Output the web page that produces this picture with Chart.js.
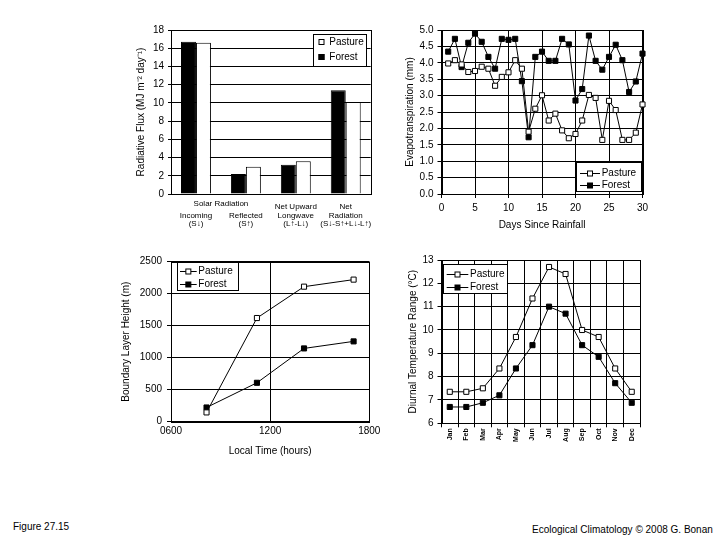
<!DOCTYPE html>
<html>
<head>
<meta charset="utf-8">
<script src="https://cdn.jsdelivr.net/npm/chart.js@4.4.1/dist/chart.umd.min.js"></script>
<style>
  body { margin: 0; background: #fff; width: 720px; height: 540px; position: relative; overflow: hidden; font-family: "Liberation Sans", Arial, sans-serif; }
  canvas { position: absolute; }
  .note { position: absolute; font-size: 10px; color: #000; white-space: nowrap; }
</style>
</head>
<body>
<canvas id="rad" width="270" height="220" style="left:130px;top:20px"></canvas>
<canvas id="et" width="260" height="220" style="left:400px;top:20px"></canvas>
<canvas id="bl" width="280" height="220" style="left:110px;top:250px"></canvas>
<canvas id="dtr" width="260" height="220" style="left:400px;top:250px"></canvas>
<div class="note" style="left:13px;top:521px">Figure 27.15</div>
<div class="note" style="left:532px;top:524px">Ecological Climatology © 2008 G. Bonan</div>
<script>
// radiation balance (top left)
const radLabels = [
  ["", "Incoming", "(S↓)"],
  ["", "Reflected", "(S↑)"],
  ["Net Upward", "Longwave", "(L↑-L↓)"],
  ["Net", "Radiation", "(S↓-S↑+L↓-L↑)"],
];
const radForest = [16.7, 2.2, 3.2, 11.4];
const radPasture = [16.6, 3.0, 3.6, 10.1];

// evapotranspiration (top right)
const etDays = [1, 2, 3, 4, 5, 6, 7, 8, 9, 10, 11, 12, 13, 14, 15, 16, 17, 18, 19, 20, 21, 22, 23, 24, 25, 26, 27, 28, 29, 30];
const etPasture = [3.98, 4.08, 3.95, 3.72, 3.75, 3.88, 3.82, 3.3, 3.57, 3.71, 4.08, 3.82, 1.9, 2.6, 3.01, 2.24, 2.45, 1.94, 1.7, 1.83, 2.24, 3.02, 2.93, 1.65, 2.84, 2.56, 1.65, 1.65, 1.87, 2.73];
const etForest = [4.34, 4.73, 3.87, 4.61, 4.89, 4.64, 4.18, 3.82, 4.73, 4.7, 4.73, 3.44, 1.73, 4.18, 4.34, 4.06, 4.06, 4.73, 4.56, 2.85, 3.2, 4.83, 4.06, 3.79, 4.18, 4.55, 4.08, 3.11, 3.43, 4.28];

// boundary layer height (bottom left)
const blHours = [8.15, 11.2, 14.05, 17.05];
const blPasture = [145, 1620, 2110, 2220];
const blForest = [222, 608, 1145, 1255];

// diurnal temperature range (bottom right)
const months = ["Jan", "Feb", "Mar", "Apr", "May", "Jun", "Jul", "Aug", "Sep", "Oct", "Nov", "Dec"];
const dtrPasture = [7.35, 7.35, 7.5, 8.35, 9.7, 11.35, 12.7, 12.4, 10.0, 9.7, 8.35, 7.35];
const dtrForest = [6.7, 6.7, 6.88, 7.2, 8.35, 9.35, 11.0, 10.7, 9.35, 8.85, 7.72, 6.88];

const FONT = '"Liberation Sans", Arial, sans-serif';
Chart.defaults.font.family = FONT;
Chart.defaults.font.size = 10;
Chart.defaults.color = "#000";
Chart.defaults.animation = false;
Chart.defaults.plugins.legend.display = false;
Chart.defaults.plugins.tooltip.enabled = false;

function fixSize(w, h) {
  return function (scale) {
    if (w != null) scale.width = w;
    if (h != null) scale.height = h;
  };
}

// full box round the plot area
const frame = {
  id: "frame",
  beforeDatasetsDraw(chart) {
    const a = chart.chartArea, ctx = chart.ctx;
    ctx.save();
    ctx.strokeStyle = "#000";
    ctx.lineWidth = 1;
    ctx.strokeRect(Math.round(a.left) + 0.5, Math.round(a.top) + 0.5,
      Math.round(a.right) - Math.round(a.left), Math.round(a.bottom) - Math.round(a.top));
    ctx.restore();
  },
};

// boxed legend drawn inside the plot
const boxLegend = {
  id: "boxLegend",
  afterDraw(chart, args, opts) {
    if (!opts.box) return;
    const ctx = chart.ctx;
    const [x1, y1, x2, y2] = opts.box.map(Math.round);
    ctx.save();
    ctx.fillStyle = "#fff";
    ctx.fillRect(x1, y1, x2 - x1, y2 - y1);
    ctx.strokeStyle = "#000";
    ctx.lineWidth = 1;
    ctx.strokeRect(x1 + 0.5, y1 + 0.5, x2 - x1, y2 - y1);
    ctx.font = "10px " + FONT;
    ctx.textBaseline = "middle";
    ctx.textAlign = "left";
    opts.names.forEach((name, i) => {
      const ds = chart.data.datasets.find(d => d.label === name);
      const y = Math.round(opts.rowY[i]) + 0.5;
      const fill = ds.pointBackgroundColor || ds.backgroundColor;
      if (opts.kind === "swatch") {
        ctx.fillStyle = fill;
        ctx.fillRect(opts.markX - 3, y - 3.5, 6, 6);
        ctx.strokeRect(opts.markX - 3 + 0.5, y - 3, 5, 5);
      } else {
        ctx.beginPath();
        ctx.moveTo(opts.lineX[0], y);
        ctx.lineTo(opts.lineX[1], y);
        ctx.stroke();
        const mx = (opts.lineX[0] + opts.lineX[1]) / 2;
        ctx.fillStyle = fill;
        ctx.fillRect(mx - 2.5, y - 2.5, 5, 5);
        ctx.strokeRect(mx - 2.5, y - 2.5, 5, 5);
      }
      ctx.fillStyle = "#000";
      ctx.fillText(name, opts.textX, y);
    });
    ctx.restore();
  },
};

// "Solar Radiation" spans the first two categories
const groupLabel = {
  id: "groupLabel",
  afterDraw(chart) {
    const x = chart.scales.x, ctx = chart.ctx;
    const cx = (x.getPixelForTick(0) + x.getPixelForTick(1)) / 2;
    ctx.save();
    ctx.font = "8px " + FONT;
    ctx.fillStyle = "#000";
    ctx.textAlign = "center";
    ctx.textBaseline = "middle";
    ctx.fillText("Solar Radiation", cx, x.top + 10);
    ctx.restore();
  },
};

const gridBlack = { color: "#000", lineWidth: 1 };

new Chart(document.getElementById("rad"), {
  type: "bar",
  data: {
    labels: radLabels,
    datasets: [
      { label: "Forest", data: radForest, backgroundColor: "#000", borderColor: "#000", borderWidth: 1 },
      { label: "Pasture", data: radPasture, backgroundColor: "#fff", borderColor: "#000", borderWidth: 1 },
    ],
  },
  options: {
    responsive: false,
    layout: { padding: { top: 10, right: 29.3, bottom: 0, left: 0 } },
    datasets: { bar: { categoryPercentage: 0.6, barPercentage: 1 } },
    scales: {
      x: {
        afterFit: fixSize(null, 46),
        grid: { display: false, drawTicks: false },
        border: { color: "#000" },
        ticks: { font: { size: 8, lineHeight: 1.05 }, padding: 9, maxRotation: 0, autoSkip: false },
      },
      y: {
        min: 0, max: 18,
        afterFit: fixSize(41, null),
        grid: { ...gridBlack, tickLength: 3 },
        border: { color: "#000" },
        ticks: { stepSize: 2, padding: 4 },
        title: { display: true, text: "Radiative Flux (MJ m⁻² day⁻¹)", padding: { top: 5.7, bottom: 0 } },
      },
    },
    plugins: {
      boxLegend: { box: [183.3, 14, 235.7, 45.7], kind: "swatch", names: ["Pasture", "Forest"], rowY: [21.7, 36.5], markX: 191.5, textX: 199.3 },
    },
  },
  plugins: [frame, boxLegend, groupLabel],
});

function lineSet(label, xs, ys, fill) {
  return {
    label: label,
    data: xs.map((x, i) => ({ x: x, y: ys[i] })),
    borderColor: "#000",
    borderWidth: 1,
    backgroundColor: fill,
    pointBackgroundColor: fill,
    pointBorderColor: "#000",
    pointBorderWidth: 1,
    pointStyle: "rect",
    pointRadius: 3.6,
    tension: 0,
    clip: false,
  };
}

new Chart(document.getElementById("et"), {
  type: "line",
  data: {
    datasets: [
      lineSet("Pasture", etDays, etPasture, "#fff"),
      lineSet("Forest", etDays, etForest, "#000"),
    ],
  },
  options: {
    responsive: false,
    layout: { padding: { top: 9.5, right: 17.5, bottom: 0, left: 0 } },
    scales: {
      x: {
        type: "linear", min: 0, max: 30,
        afterFit: fixSize(null, 46),
        grid: { ...gridBlack, tickLength: 4 },
        border: { color: "#000" },
        ticks: { stepSize: 5, padding: 4, maxRotation: 0 },
        title: { display: true, text: "Days Since Rainfall", padding: { top: 0, bottom: 9 } },
      },
      y: {
        min: 0, max: 5,
        afterFit: fixSize(41.5, null),
        grid: { ...gridBlack, tickLength: 4 },
        border: { color: "#000" },
        ticks: { stepSize: 0.5, padding: 4, callback: v => v.toFixed(1) },
        title: { display: true, text: "Evapotranspiration (mm)", padding: { top: 4, bottom: 0 } },
      },
    },
    plugins: {
      boxLegend: { box: [175.7, 141.7, 240.7, 170.7], kind: "line", names: ["Pasture", "Forest"], rowY: [152.7, 165], lineX: [180, 200], textX: 201.7 },
    },
  },
  plugins: [frame, boxLegend],
});

new Chart(document.getElementById("bl"), {
  type: "line",
  data: {
    datasets: [
      lineSet("Pasture", blHours, blPasture, "#fff"),
      lineSet("Forest", blHours, blForest, "#000"),
    ],
  },
  options: {
    responsive: false,
    layout: { padding: { top: 11.7, right: 20.7, bottom: 0, left: 0 } },
    scales: {
      x: {
        type: "linear", min: 6, max: 18,
        afterFit: fixSize(null, 48.3),
        grid: { ...gridBlack, drawTicks: false },
        border: { color: "#000" },
        ticks: { stepSize: 6, padding: 4, maxRotation: 0, callback: v => String(v * 100).padStart(4, "0") },
        title: { display: true, text: "Local Time (hours)", padding: { top: 0, bottom: 12.3 } },
      },
      y: {
        min: 0, max: 2500,
        afterFit: fixSize(61, null),
        grid: { ...gridBlack, tickLength: 4 },
        border: { color: "#000" },
        ticks: { stepSize: 500, padding: 5, callback: v => String(v) },
        title: { display: true, text: "Boundary Layer Height (m)", padding: { top: 10.7, bottom: 0 } },
      },
    },
    plugins: {
      boxLegend: { box: [66.7, 12.3, 128.3, 40], kind: "line", names: ["Pasture", "Forest"], rowY: [20.7, 34.3], lineX: [70, 86.7], textX: 88.3 },
    },
  },
  plugins: [frame, boxLegend],
});

new Chart(document.getElementById("dtr"), {
  type: "line",
  data: {
    labels: months,
    datasets: [
      { ...lineSet("Pasture", [], [], "#fff"), data: dtrPasture },
      { ...lineSet("Forest", [], [], "#000"), data: dtrForest },
    ],
  },
  options: {
    responsive: false,
    layout: { padding: { top: 8.3, right: 20, bottom: 0, left: 0 } },
    scales: {
      x: {
        offset: true,
        afterFit: fixSize(null, 46.7),
        grid: { ...gridBlack, offset: true, tickLength: 4 },
        border: { color: "#000" },
        ticks: { font: { size: 7, weight: "bold" }, padding: 1, minRotation: 90, maxRotation: 90, autoSkip: false },
      },
      y: {
        min: 6, max: 13,
        afterFit: fixSize(41.5, null),
        grid: { ...gridBlack, tickLength: 4 },
        border: { color: "#000" },
        ticks: { stepSize: 1, padding: 4 },
        title: { display: true, text: "Diurnal Temperature Range (°C)", padding: { top: 7, bottom: 0 } },
      },
    },
    plugins: {
      boxLegend: { box: [43.3, 14, 107.3, 43.3], kind: "line", names: ["Pasture", "Forest"], rowY: [24, 37.3], lineX: [46.7, 68.3], textX: 70 },
    },
  },
  plugins: [frame, boxLegend],
});
</script>
</body>
</html>
